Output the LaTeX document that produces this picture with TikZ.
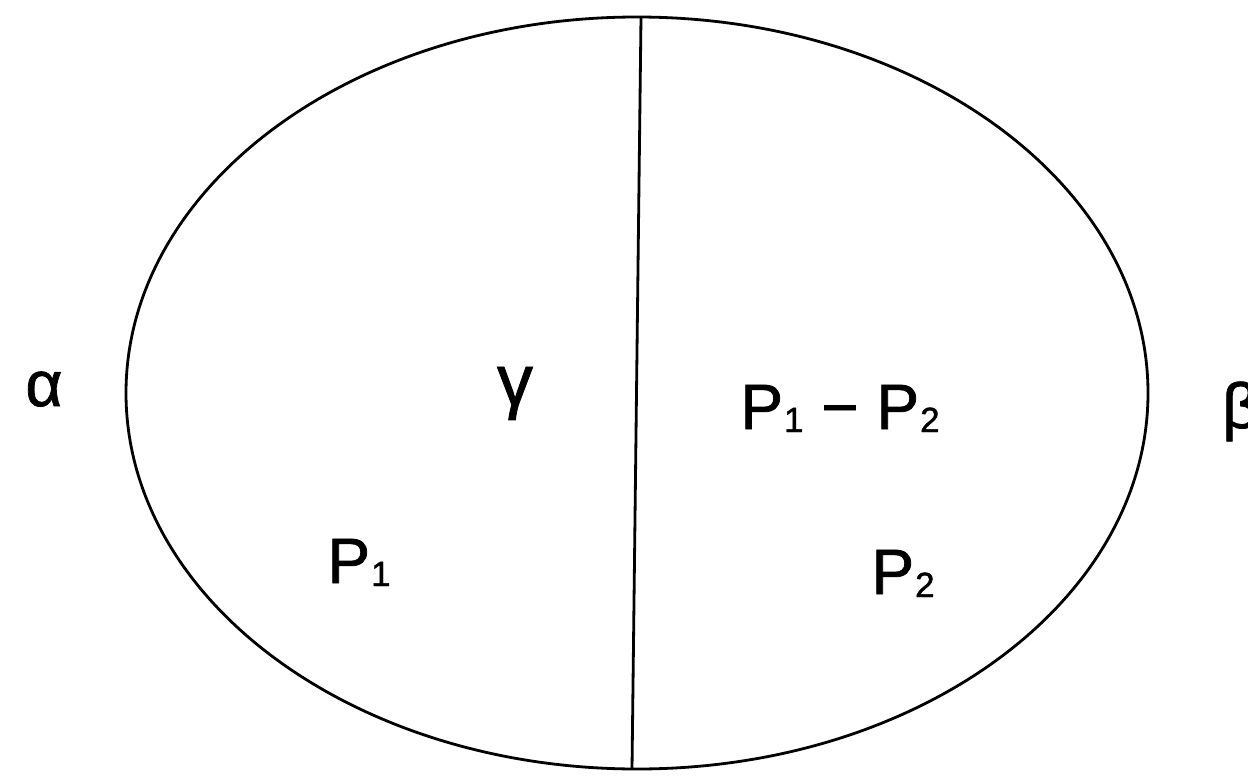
\documentclass[tikz,border=0pt]{standalone}
\usepackage{fontspec}
\setmainfont{Liberation Sans}[FakeBold=1.2]
\newcommand{\Psub}[1]{P\kern1pt\raisebox{-3pt}{\fontsize{35}{36}\selectfont #1}}
\begin{document}
\begin{tikzpicture}[x=1pt,y=-1pt,
  lbl/.style={anchor=base,inner sep=0pt,font=\fontsize{64}{70}\selectfont},
  outline/.style={line width=2.8pt,black}]
\useasboundingbox (0,0) rectangle (1248,779);
\draw[outline] (637,393) ellipse [x radius=511, y radius=376];
\coordinate (top) at (641,17);
\coordinate (bot) at (632,769);
\draw[outline] (top) -- (bot);
\node[lbl] (alpha) at (44,406) {α};
\node[lbl,font=\fontsize{72}{76}\selectfont] (gamma) at (515,405) {γ};
\node[lbl] (diff) at (840,429) {\Psub{1} − \Psub{2}};
\node[lbl,anchor=base west] (beta) at (1222,428) {β};
\node[lbl] (p1) at (359,583) {\Psub{1}};
\node[lbl] (p2) at (903,594) {\Psub{2}};
\end{tikzpicture}
\end{document}
